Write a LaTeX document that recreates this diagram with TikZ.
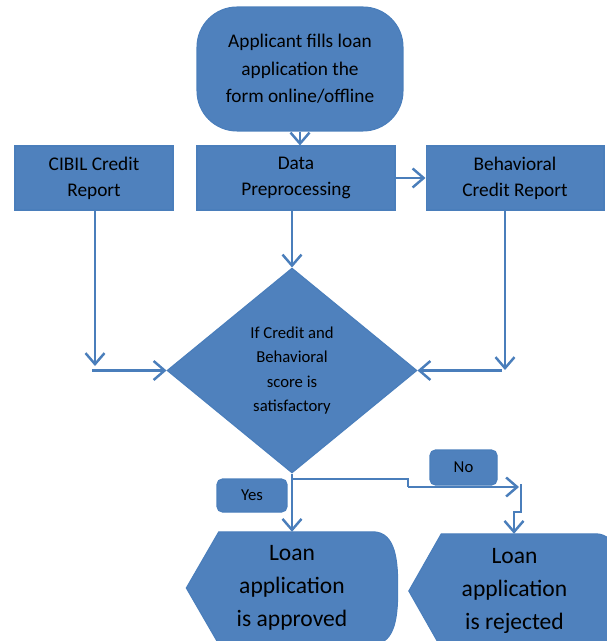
\documentclass[tikz,border=0pt]{standalone}
\usepackage{fontspec}
\setmainfont{Carlito}
\usetikzlibrary{shapes.geometric,arrows.meta,backgrounds}
\definecolor{boxblue}{HTML}{4F81BD}
\definecolor{lineblue}{HTML}{4A7EBB}

\begin{document}
\begin{tikzpicture}[x=0.02cm, y=-0.02cm, line width=1.4pt]
\tikzstyle{box}=[rectangle, fill=boxblue, draw=lineblue, line width=0.6pt, minimum height=1.28cm, align=center, font=\fontsize{11}{14.7}\selectfont]
\tikzstyle{tag}=[box, rounded corners=3pt, minimum height=0.66cm, font=\fontsize{9.5}{12}\selectfont]
\tikzstyle{link}=[draw=lineblue, -{Straight Barb[length=2.2mm,width=3.8mm]}]
\tikzstyle{plain}=[draw=lineblue]
\tikzstyle{endtext}=[align=center, minimum width=4.18cm, font=\fontsize{13.4}{18.7}\selectfont]
\tikzstyle{display}=[fill=boxblue, draw=lineblue, line width=0.6pt]

\useasboundingbox (0,0) rectangle (606,641);

% boxes
\node[box, rounded corners=0.8cm, minimum width=4.12cm, minimum height=2.48cm, font=\fontsize{11}{15.6}\selectfont] (start) at (300,69) {Applicant fills loan\\application the\\form online/offline};
\node[box, minimum width=3.16cm] (cibil) at (94,178) {CIBIL Credit\\Report};
\node[box, minimum width=3.96cm] (data) at (296,178) {Data\\Preprocessing};
\node[box, minimum width=3.56cm] (behav) at (515,178) {Behavioral\\Credit Report};
\node[diamond, fill=boxblue, draw=lineblue, line width=0.6pt, minimum width=5cm, minimum height=4.1cm, inner sep=0pt, align=center, font=\fontsize{9.5}{14}\selectfont] (check) at (292,370.5) {If Credit and\\Behavioral\\score is\\satisfactory};
\node[tag, minimum width=1.4cm] (yes) at (252,495.5) {Yes};
\node[tag, minimum width=1.34cm, minimum height=0.7cm] (no) at (463.5,467.5) {No};
\node[endtext, minimum height=2.2cm] (approved) at (292,588) {Loan\\application\\is approved};
\node[endtext, minimum height=2.24cm] (rejected) at (514.5,591) {Loan\\application\\is rejected};

\begin{scope}[on background layer]
\foreach \n in {approved, rejected}
  \path[display] (\n.west) -- ([xshift=0.65cm]\n.north west) -- ([xshift=-0.5cm]\n.north east) to[out=0,in=90] (\n.east) to[out=-90,in=0] ([xshift=-0.5cm]\n.south east) -- ([xshift=0.65cm]\n.south west) -- cycle;
\end{scope}

% connectors
\coordinate (cibilend) at (95,366);
\coordinate (behavend) at (505,370);
\coordinate (nosplit) at (292,479);
\coordinate (nostep) at (408,487);
\coordinate (noend) at (519,487);
\coordinate (notop) at (521,484);
\coordinate (nojog) at (514,512);

\draw[link] (start) -- (start |- data.north);
\draw[link] (data) -- (behav);
\draw[link] (check.north |- data.south) -- (check.north);
\draw[link] (cibil.south -| cibilend) -- (cibilend);
\draw[link] ([xshift=-0.06cm]cibilend |- check.west) -- (check.west);
\draw[link] (behav.south -| behavend) -- (behavend);
\draw[link] ([xshift=-0.06cm]behavend |- check.east) -- (check.east);
\draw[link] (check.south) -- (approved.north);
\draw[plain] (nosplit) -- (nosplit -| nostep) -- (nostep);
\draw[link] (nostep) -- (noend);
\draw[link] (notop) |- (nojog) -- (nojog |- rejected.north);
\end{tikzpicture}
\end{document}
